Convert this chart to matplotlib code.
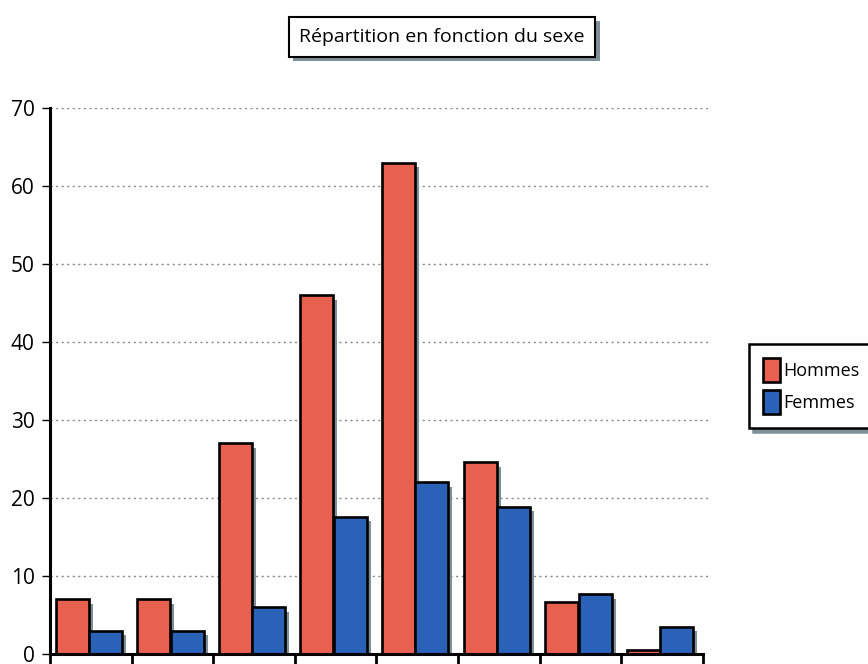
import matplotlib.pyplot as plt
import matplotlib.patheffects as pe
import numpy as np

plt.rcParams['font.family'] = ['Open Sans', 'DejaVu Sans']

hommes = [7, 7, 27, 46, 63, 24.6, 6.7, 0.5]
femmes = [3, 3, 6, 17.6, 22, 18.9, 7.7, 3.5]
labels = ['Hommes', 'Femmes']
title = 'Répartition en fonction du sexe'

red = '#e8604f'
blue = '#2a62b8'
shade = '#7f9096'

x = np.arange(len(hommes))
w = 0.405
dx = 0.05   # shadow offset
dy = 0.6

fig = plt.figure(figsize=(8.68, 6.64), dpi=100)
ax = fig.add_axes([50/868, 10/664, 660/868, 546/664])

# drop shadows
ax.bar(x - 0.23 + dx, np.array(hommes) - dy, w, color=shade, zorder=1)
ax.bar(x + 0.18 + dx, np.array(femmes) - dy, w, color=shade, zorder=1)

ax.bar(x - 0.23, hommes, w, color=red, edgecolor='black', linewidth=1.9,
       label=labels[0], zorder=2)
ax.bar(x + 0.18, femmes, w, color=blue, edgecolor='black', linewidth=1.9,
       label=labels[1], zorder=2)

ax.set_xlim(-0.5, -0.5 + 660/81.6)
ax.set_ylim(0, 70)
ax.set_yticks(range(0, 71, 10))
ax.set_xticks(np.arange(-0.5, 8, 1))
ax.set_xticklabels([])
ax.tick_params(axis='y', labelsize=15, length=6, width=1, pad=5)
ax.tick_params(axis='x', length=12, width=2)
ax.yaxis.grid(True, linestyle=(0, (1.5, 2.5)), color='#888888', linewidth=1)
ax.set_axisbelow(True)
for s in ['top', 'right']:
    ax.spines[s].set_visible(False)
ax.spines['left'].set_linewidth(2.2)
ax.spines['bottom'].set_linewidth(2.2)
ax.spines['bottom'].set_bounds(-0.5, 7.5)

t = fig.text(442/868, 1 - 37/664, title, ha='center', va='center', fontsize=14,
             bbox=dict(boxstyle='square,pad=0.55', fc='white', ec='black', lw=1.5))
t.get_bbox_patch().set_path_effects([pe.SimplePatchShadow(offset=(3, -3), shadow_rgbFace='#7f9096', alpha=1),
                                     pe.Normal()])

leg = fig.legend(loc='upper left', bbox_to_anchor=(740/868, 1 - 335/664), fontsize=13,
                 frameon=True, fancybox=False, edgecolor='black', handlelength=0.95,
                 handleheight=1.7, handletextpad=0.2, labelspacing=0.45, borderpad=0.75,
                 shadow={'color': '#7f9096', 'alpha': 1, 'ox': 3, 'oy': -3})
leg.get_frame().set_linewidth(1.8)

fig.savefig('out.png', dpi=100)
plt.close(fig)
